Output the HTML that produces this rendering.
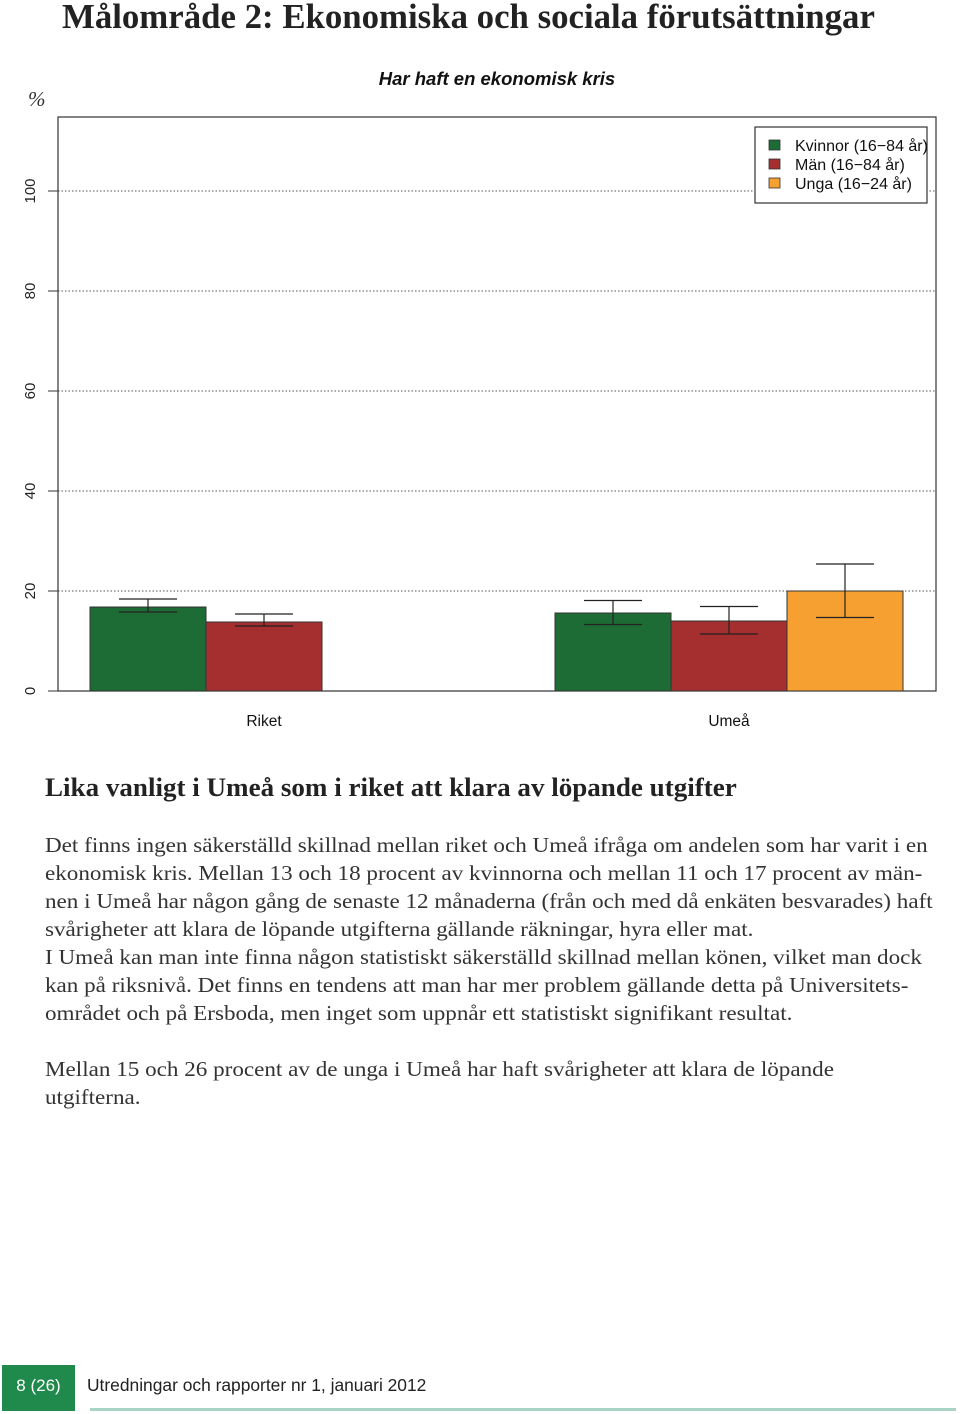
<!DOCTYPE html>
<html><head><meta charset="utf-8"><style>
body{margin:0;width:960px;height:1414px;background:#fff;position:relative;overflow:hidden;font-family:"Liberation Serif",serif}
.t{position:absolute;white-space:nowrap}
.p{position:absolute;left:45px;font-size:21px;color:#333;white-space:nowrap;transform:scaleX(1.1);transform-origin:0 0}
</style></head><body>
<div class="t" style="left:62px;top:-3px;font-size:34.8px;font-weight:bold;color:#222">Målområde 2: Ekonomiska och sociala förutsättningar</div>
<svg id="chart" width="960" height="740" style="position:absolute;left:0;top:0" font-family="Liberation Sans, sans-serif"></svg>
<div class="t" style="left:45px;top:773px;font-size:26px;font-weight:bold;color:#222;transform:scaleX(1.04);transform-origin:0 0">Lika vanligt i Umeå som i riket att klara av löpande utgifter</div>
<div>
<div class="p" style="top:833px">Det finns ingen säkerställd skillnad mellan riket och Umeå ifråga om andelen som har varit i en</div>
<div class="p" style="top:861px">ekonomisk kris. Mellan 13 och 18 procent av kvinnorna och mellan 11 och 17 procent av män-</div>
<div class="p" style="top:889px">nen i Umeå har någon gång de senaste 12 månaderna (från och med då enkäten besvarades) haft</div>
<div class="p" style="top:917px">svårigheter att klara de löpande utgifterna gällande räkningar, hyra eller mat.</div>
<div class="p" style="top:945px">I Umeå kan man inte finna någon statistiskt säkerställd skillnad mellan könen, vilket man dock</div>
<div class="p" style="top:973px">kan på riksnivå. Det finns en tendens att man har mer problem gällande detta på Universitets-</div>
<div class="p" style="top:1001px">området och på Ersboda, men inget som uppnår ett statistiskt signifikant resultat.</div>
<div class="p" style="top:1057px">Mellan 15 och 26 procent av de unga i Umeå har haft svårigheter att klara de löpande</div>
<div class="p" style="top:1085px">utgifterna.</div>
</div>
<div style="position:absolute;left:2px;top:1365px;width:73px;height:46px;background:#1f8a4c;color:#fff;font:17px 'Liberation Sans',sans-serif;line-height:42px;text-align:center">8 (26)</div>
<div class="t" style="left:87px;top:1375px;font:17.4px 'Liberation Sans',sans-serif;color:#222">Utredningar och rapporter nr 1, januari 2012</div>
<div style="position:absolute;left:90px;top:1408px;width:866px;height:3px;background:#a9d4c4"></div>
<script>
const categories=["Riket","Umeå"];
const seriesNames=["Kvinnor (16−84 år)","Män (16−84 år)","Unga (16−24 år)"];
const colors=["#1d6b35","#a52f2f","#f5a030"];
const kvinnor=[16.8,15.6], kvinnorLo=[15.8,13.3], kvinnorHi=[18.4,18.1];
const man=[13.8,14.0], manLo=[13.0,11.4], manHi=[15.4,16.9];
const unga=[null,20.0], ungaLo=[null,14.7], ungaHi=[null,25.4];
const yTicks=[0,20,40,60,80,100];
const NS="http://www.w3.org/2000/svg";
const svg=document.getElementById('chart');
function el(t,a,txt){const e=document.createElementNS(NS,t);for(const k in a)e.setAttribute(k,a[k]);if(txt!=null)e.textContent=txt;svg.appendChild(e);return e;}
const L=58,R=936,T=117,B=691;
const y=v=>B-v*5;
const groupX=[90,555], bw=116;
const x=(g,s)=>groupX[g]+s*bw;
let e;
e=el('text',{x:497,y:85,'text-anchor':'middle','font-size':18.5,'font-weight':'bold','font-style':'italic',fill:'#111'},'Har haft en ekonomisk kris');


e=el('text',{x:28,y:106,'font-size':21,'font-style':'italic','font-family':'Liberation Serif, serif',fill:'#333'},'%');


yTicks.forEach(v=>{
  if(v>0){e=el('line',{x1:L,x2:R,y1:y(v),y2:y(v),stroke:'#555','stroke-dasharray':'1.5,2','stroke-width':1});
  
  }
  e=el('line',{x1:48,x2:L,y1:y(v),y2:y(v),stroke:'#333'});
  
  
  e=el('text',{x:35,y:y(v),'font-size':15,'text-anchor':'middle',transform:`rotate(-90 35 ${y(v)})`,fill:'#222'},String(v));
  
  
});
e=el('rect',{x:L,y:T,width:R-L,height:B-T,fill:'none',stroke:'#333','stroke-width':1.2});


const series=[[kvinnor,kvinnorLo,kvinnorHi],[man,manLo,manHi],[unga,ungaLo,ungaHi]];
categories.forEach((c,g)=>{
  series.forEach((s,si)=>{
    const v=s[0][g]; if(v==null)return;
    const bx=x(g,si);
    e=el('rect',{x:bx,y:y(v),width:bw,height:y(0)-y(v),fill:colors[si],stroke:'#333','stroke-width':1});
    
    
    const cx=bx+bw/2;
    e=el('path',{d:`M${cx-29},${y(s[2][g])}H${cx+29}M${cx-29},${y(s[1][g])}H${cx+29}M${cx},${y(s[2][g])}V${y(s[1][g])}`,stroke:'#222','stroke-width':1.2,fill:'none'});
    
    
  });
  e=el('text',{x:groupX[g]+174,y:726,'font-size':15.5,'text-anchor':'middle',fill:'#111'},c);
  
  
});
e=el('rect',{x:755,y:127,width:172,height:76,fill:'#fff',stroke:'#333','stroke-width':1.2});


seriesNames.forEach((n,i)=>{
  e=el('rect',{x:769,y:140+i*19,width:11,height:10,fill:colors[i],stroke:'#333','stroke-width':0.8});
  
  
  e=el('text',{x:795,y:151+i*19,'font-size':16,fill:'#111'},n);
  
  
});
</script>
</body></html>
